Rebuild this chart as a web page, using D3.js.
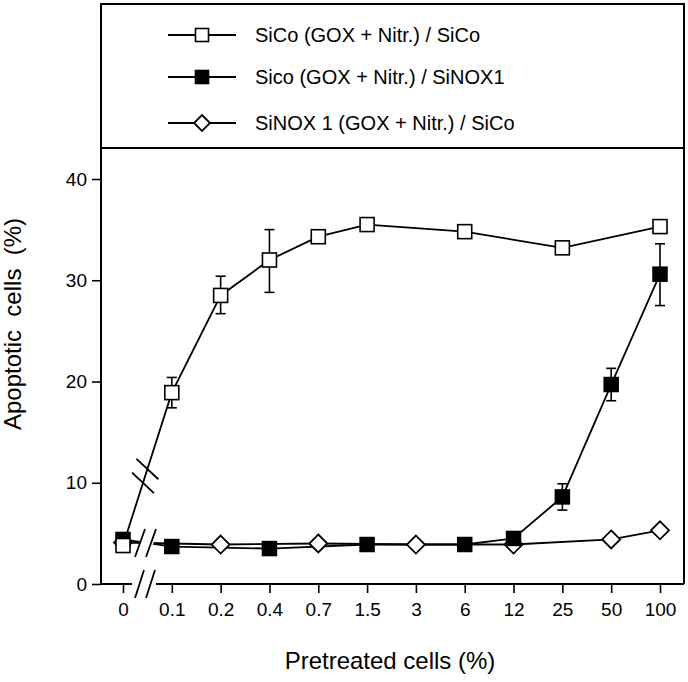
<!DOCTYPE html>
<html>
<head>
<meta charset="utf-8">
<script src="https://cdn.jsdelivr.net/npm/d3@7"></script>
<style>
  html, body { margin: 0; padding: 0; background: #fff; }
  svg { display: block; font-family: "Liberation Sans", Arial, sans-serif; }
</style>
</head>
<body>
<svg id="chart" width="688" height="682"></svg>
<script>
// ---------- DATA ----------
const categories = ["0", "0.1", "0.2", "0.4", "0.7", "1.5", "3", "6", "12", "25", "50", "100"];
const yTicks = [0, 10, 20, 30, 40];

const seriesNames = [
  "SiCo (GOX + Nitr.) / SiCo",
  "Sico (GOX + Nitr.) / SiNOX1",
  "SiNOX 1 (GOX + Nitr.) / SiCo"
];

// Series 1: open squares
const s1Cats   = ["0", "0.1", "0.2", "0.4", "0.7", "1.5", "6", "25", "100"];
const s1Values = [3.8, 18.9, 28.5, 32.0, 34.3, 35.5, 34.8, 33.2, 35.3];
const s1ErrUp  = [null, 20.4, 30.4, 35.0, null, null, null, null, null];
const s1ErrLo  = [null, 17.4, 26.7, 28.8, null, null, null, null, null];

// Series 2: filled squares
const s2Cats   = ["0", "0.1", "0.4", "1.5", "6", "12", "25", "50", "100"];
const s2Values = [4.4, 3.7, 3.5, 3.9, 3.9, 4.5, 8.6, 19.7, 30.6];
const s2ErrUp  = [null, null, null, null, null, null, 9.9, 21.3, 33.6];
const s2ErrLo  = [null, null, null, null, null, null, 7.3, 18.1, 27.5];

// Series 3: open diamonds
const s3Cats   = ["0", "0.2", "0.7", "3", "12", "50", "100"];
const s3Values = [4.1, 3.9, 4.0, 3.9, 3.9, 4.4, 5.3];

const xTitle = "Pretreated cells (%)";
const yTitle = "Apoptotic  cells  (%)";

// ---------- LAYOUT ----------
const svg = d3.select("#chart");
const frameL = 101, frameR = 684, legTop = 4, plotTop = 148, plotBottom = 584;

const x = d3.scalePoint().domain(categories).range([123, 660]);
const y = d3.scaleLinear().domain([0, 40]).range([plotBottom, 179]);

const build = (cats, vals, up, lo) => cats.map((c, i) => ({
  c, v: vals[i], up: up ? up[i] : null, lo: lo ? lo[i] : null
}));
const s1 = build(s1Cats, s1Values, s1ErrUp, s1ErrLo);
const s2 = build(s2Cats, s2Values, s2ErrUp, s2ErrLo);
const s3 = build(s3Cats, s3Values);

// ---------- FRAMES ----------
const frame = svg.append("g").attr("fill", "none").attr("stroke", "#000").attr("stroke-width", 2);
frame.append("rect").attr("x", frameL).attr("y", legTop).attr("width", frameR - frameL).attr("height", plotTop - legTop);
frame.append("line").attr("x1", frameL).attr("x2", frameL).attr("y1", plotTop).attr("y2", plotBottom);
frame.append("line").attr("x1", frameR).attr("x2", frameR).attr("y1", plotTop).attr("y2", plotBottom);

// x axis baseline with break
const xb0 = x("0") + 9, xb1 = x("0") + 33;
frame.append("line").attr("x1", frameL).attr("x2", xb0).attr("y1", plotBottom).attr("y2", plotBottom);
frame.append("line").attr("x1", xb1).attr("x2", frameR).attr("y1", plotBottom).attr("y2", plotBottom);

// ---------- AXES ----------
const yAxis = svg.append("g")
  .attr("transform", `translate(${frameL},0)`)
  .call(d3.axisLeft(y).tickValues(yTicks).tickSize(9).tickPadding(5));
yAxis.select(".domain").remove();
yAxis.selectAll("line").attr("stroke-width", 1.6);
yAxis.selectAll("text").attr("font-size", 19).attr("font-family", "Liberation Sans, Arial, sans-serif").attr("fill", "#000");

const xAxis = svg.append("g")
  .attr("transform", `translate(0,${plotBottom})`)
  .call(d3.axisBottom(x).tickSize(9).tickPadding(10));
xAxis.select(".domain").remove();
xAxis.selectAll("line").attr("stroke-width", 1.6);
xAxis.selectAll("text").attr("font-size", 19).attr("font-family", "Liberation Sans, Arial, sans-serif").attr("fill", "#000");

// axis break slashes
const slash = svg.append("g").attr("stroke", "#000").attr("stroke-width", 1.8);
[0, 11].forEach(dx => {
  slash.append("line")
    .attr("x1", xb0 + 3 + dx).attr("y1", plotBottom + 14)
    .attr("x2", xb0 + 12 + dx).attr("y2", plotBottom - 14);
});

// titles
svg.append("text").attr("x", 390).attr("y", 669).attr("text-anchor", "middle")
  .attr("font-size", 24).text(xTitle);
svg.append("text").attr("transform", "translate(21,324) rotate(-90)").attr("text-anchor", "middle")
  .attr("font-size", 24).style("white-space", "pre").text(yTitle);

// ---------- SERIES ----------
const line = d3.line().x(d => x(d.c)).y(d => y(d.v));
const plot = svg.append("g");

function drawLine(data) {
  plot.append("path").datum(data).attr("d", line)
    .attr("fill", "none").attr("stroke", "#000").attr("stroke-width", 1.8);
}
drawLine(s3);
drawLine(s2);

// gap + slashes across the low lines between 0 and 0.1
const lowY = y((s2Values[0] + s2Values[1]) / 2);
const g0 = xb0 + 4;
plot.append("polygon")
  .attr("points", [[g0 - 1, lowY + 12], [g0 + 8, lowY - 12], [g0 + 22, lowY - 12], [g0 + 13, lowY + 12]].map(p => p.join(",")).join(" "))
  .attr("fill", "#fff");
[0, 11].forEach(dx => {
  plot.append("line")
    .attr("x1", g0 + dx - 1).attr("y1", lowY + 14)
    .attr("x2", g0 + dx + 9).attr("y2", lowY - 14)
    .attr("stroke", "#000").attr("stroke-width", 1.8);
});

drawLine(s1);

// break marks on the SiCo line between 0 and 0.1
{
  const ax = x(s1[0].c), ay = y(s1[0].v), bx = x(s1[1].c), by = y(s1[1].v);
  [0.41, 0.5].forEach(t => {
    const cx = ax + (bx - ax) * t, cy = ay + (by - ay) * t;
    const ux = 0.73, uy = 0.68, h = 15;
    plot.append("line")
      .attr("x1", cx - ux * h).attr("y1", cy - uy * h)
      .attr("x2", cx + ux * h).attr("y2", cy + uy * h)
      .attr("stroke", "#000").attr("stroke-width", 1.8);
  });
}

// error bars
function drawErr(data) {
  const e = data.filter(d => d.up != null);
  const g = plot.append("g").attr("stroke", "#000").attr("stroke-width", 1.6);
  e.forEach(d => {
    const cx = x(d.c);
    g.append("line").attr("x1", cx).attr("x2", cx).attr("y1", y(d.up)).attr("y2", y(d.lo));
    g.append("line").attr("x1", cx - 5).attr("x2", cx + 5).attr("y1", y(d.up)).attr("y2", y(d.up));
    g.append("line").attr("x1", cx - 5).attr("x2", cx + 5).attr("y1", y(d.lo)).attr("y2", y(d.lo));
  });
}
drawErr(s2);
drawErr(s1);

// markers
const sq = 14, dm = 9;
function diamond(g, cx, cy, r) {
  g.append("path").attr("d", `M${cx},${cy - r}L${cx + r},${cy}L${cx},${cy + r}L${cx - r},${cy}Z`)
    .attr("fill", "#fff").attr("stroke", "#000").attr("stroke-width", 1.8);
}
s3.forEach(d => diamond(plot, x(d.c), y(d.v), dm));
plot.selectAll(".s2m").data(s2).enter().append("rect").attr("class", "s2m")
  .attr("x", d => x(d.c) - sq / 2).attr("y", d => y(d.v) - sq / 2)
  .attr("width", sq).attr("height", sq).attr("fill", "#000").attr("stroke", "#000").attr("stroke-width", 1.5);
plot.selectAll(".s1m").data(s1).enter().append("rect").attr("class", "s1m")
  .attr("x", d => x(d.c) - sq / 2).attr("y", d => y(d.v) - sq / 2)
  .attr("width", sq).attr("height", sq).attr("fill", "#fff").attr("stroke", "#000").attr("stroke-width", 1.6);

// ---------- LEGEND ----------
const legRows = [35, 77, 123];
const leg = svg.append("g");
seriesNames.forEach((name, i) => {
  const ry = legRows[i];
  leg.append("line").attr("x1", 168).attr("x2", 236).attr("y1", ry).attr("y2", ry)
    .attr("stroke", "#000").attr("stroke-width", 1.8);
  if (i === 2) {
    diamond(leg, 202, ry, 8);
  } else {
    leg.append("rect").attr("x", 202 - 6.5).attr("y", ry - 6.5).attr("width", 13).attr("height", 13)
      .attr("fill", i === 0 ? "#fff" : "#000").attr("stroke", "#000").attr("stroke-width", 1.6);
  }
  leg.append("text").attr("x", 255).attr("y", ry + 7).attr("font-size", 20).text(name);
});
</script>
</body>
</html>
